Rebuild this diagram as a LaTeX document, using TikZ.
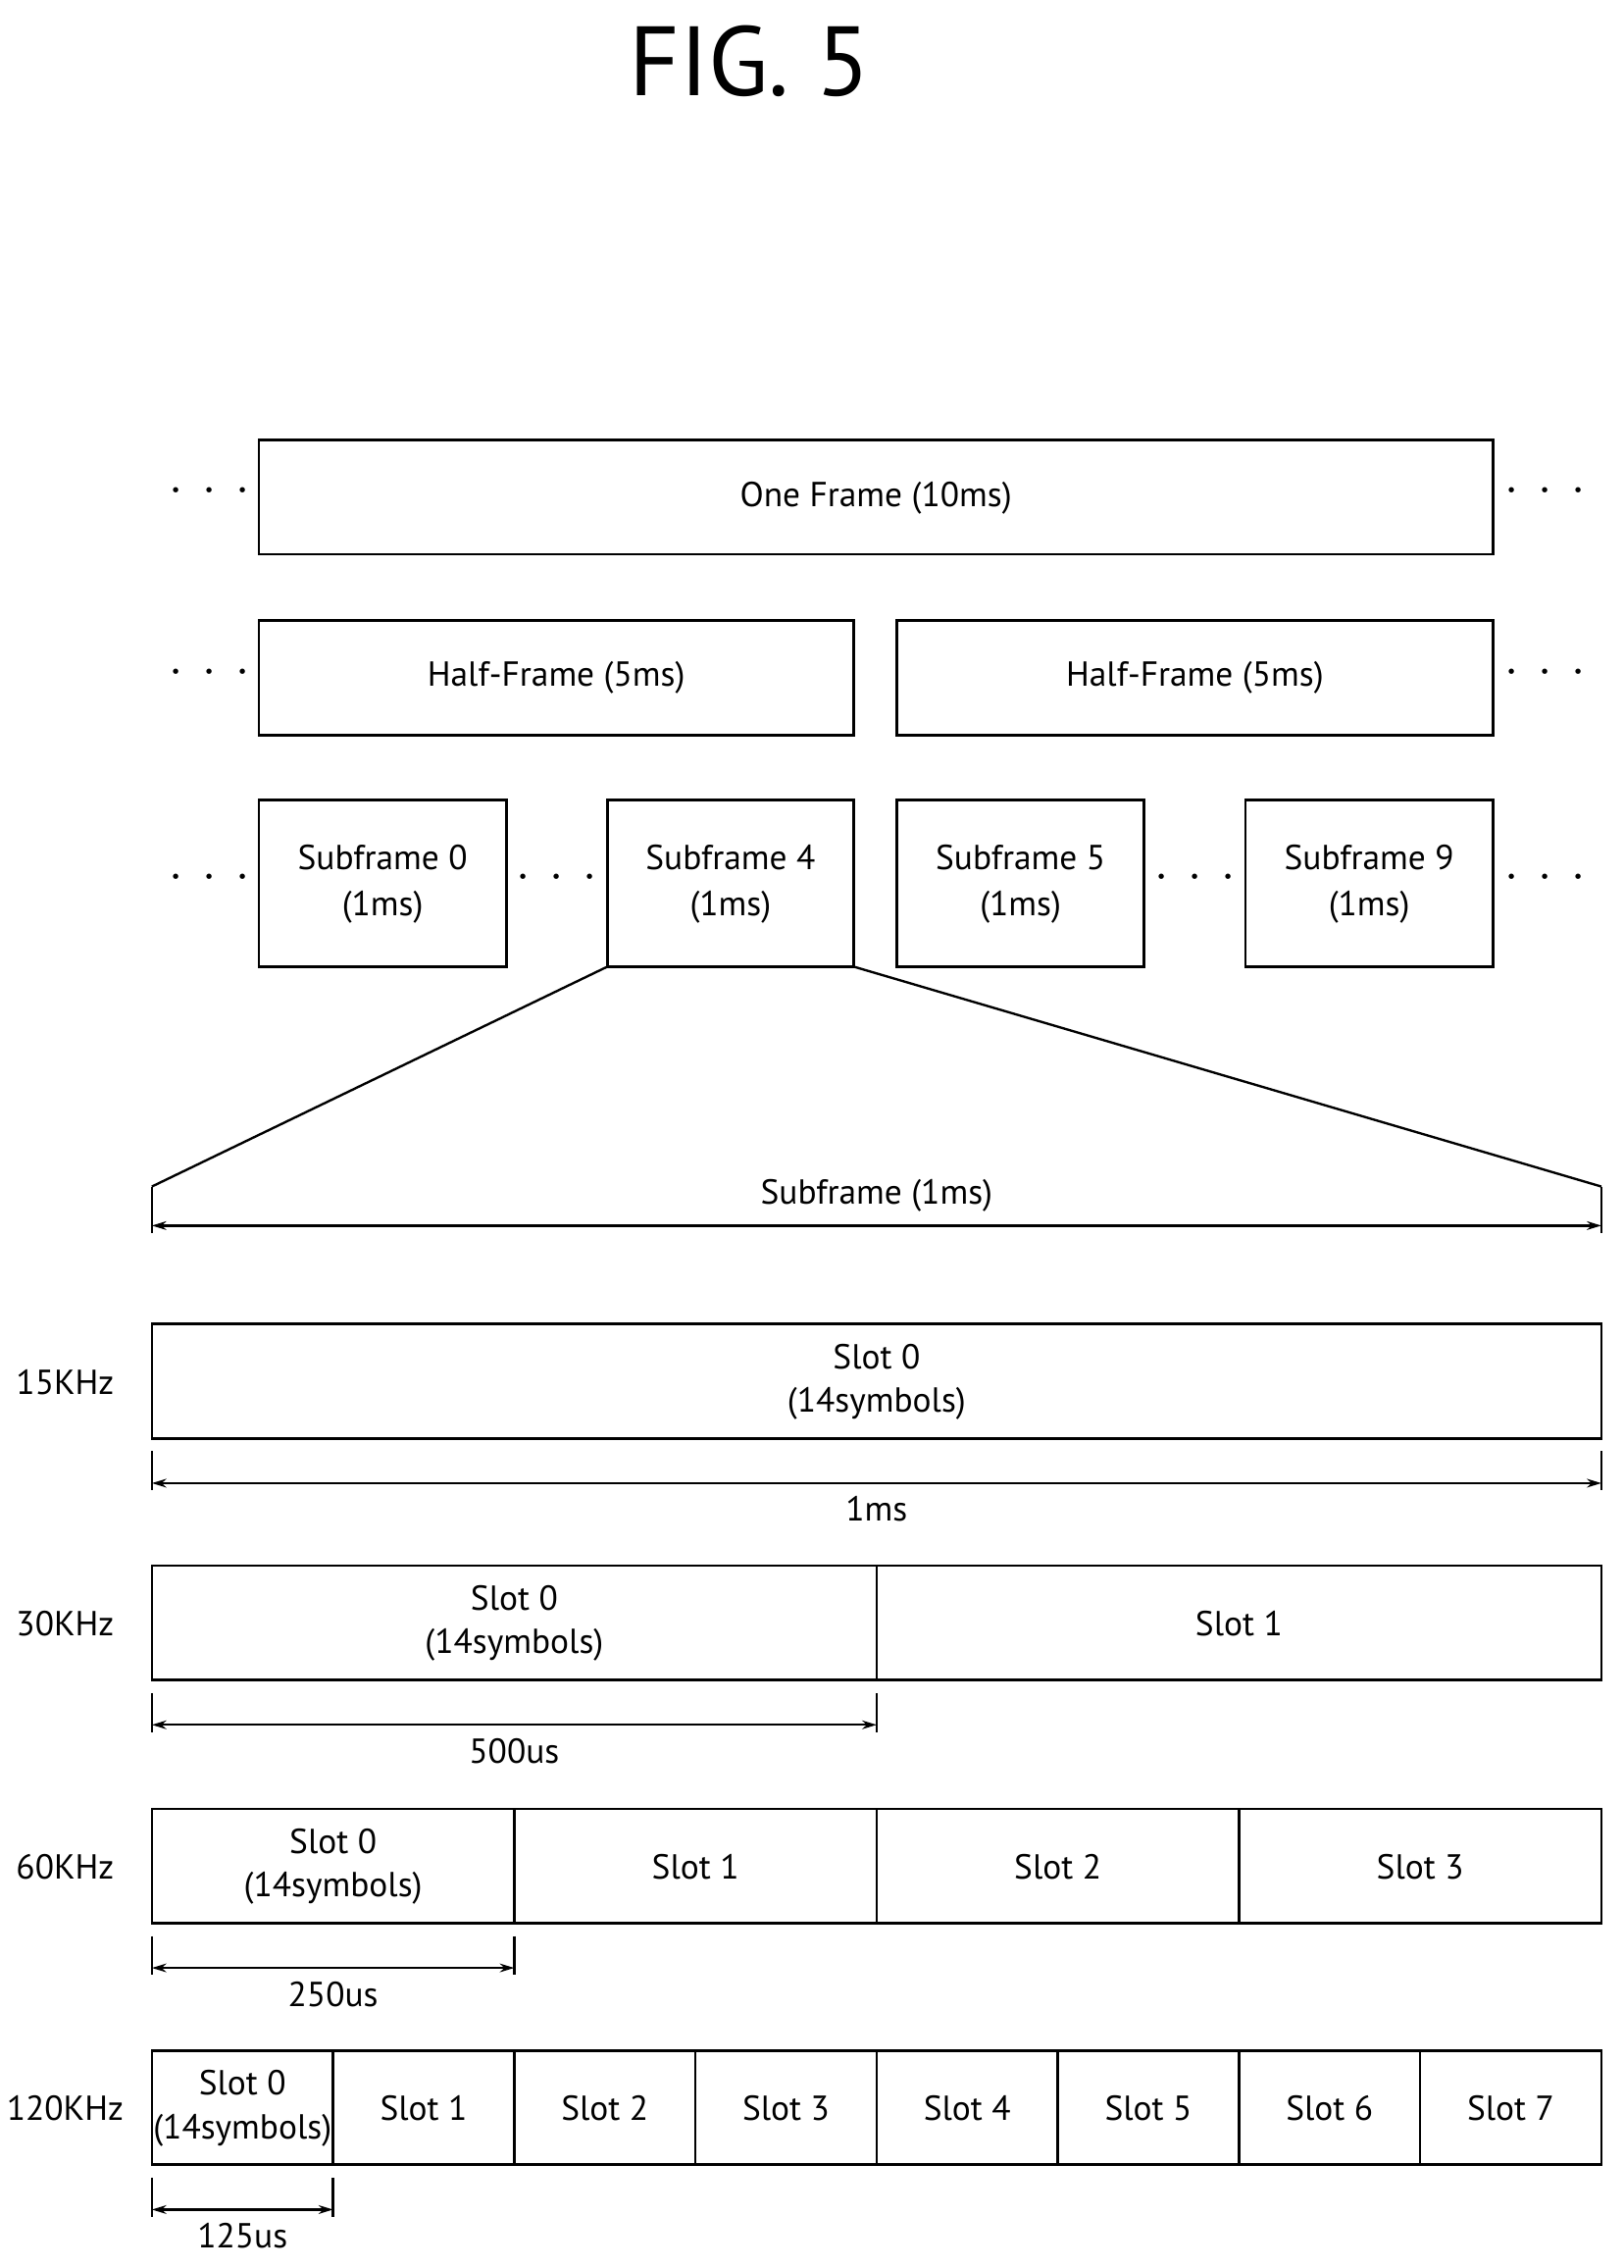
\documentclass[tikz,border=0pt]{standalone}
\usepackage{fontspec}
\setmainfont{PT Sans}
\usetikzlibrary{arrows.meta}
\begin{document}
\begin{tikzpicture}[x=0.5pt,y=-0.5pt,
  bx/.style={draw,line width=0.9pt},
  lbl/.style={font=\fontsize{12}{14}\selectfont},
  dots/.style={font=\fontsize{16}{16}\selectfont},
  dim/.style={line width=0.8pt,{Stealth[open,length=5pt,width=3pt]}-{Stealth[open,length=5pt,width=3pt]}},
  tick/.style={line width=0.8pt}]
\useasboundingbox (0,0) rectangle (1122,1567.4);
\node[font=\fontsize{34}{36}\selectfont] (title) at (518,42) {FIG. 5};
% frame
\draw[bx] (179,304) rectangle (1032,383);
\node[lbl] (of) at (605.5,344) {One Frame (10ms)};
\node[dots] (d1) at (145,340) {$\cdot\,\cdot\,\cdot$};
\node[dots] (d2) at (1068,340) {$\cdot\,\cdot\,\cdot$};
% half frames
\draw[bx] (179,429) rectangle (590,508);
\draw[bx] (620,429) rectangle (1032,508);
\node[lbl] (hf1) at (384.5,468) {Half-Frame (5ms)};
\node[lbl] (hf2) at (826,468) {Half-Frame (5ms)};
\node[dots] (d3) at (145,465) {$\cdot\,\cdot\,\cdot$};
\node[dots] (d4) at (1068,465) {$\cdot\,\cdot\,\cdot$};
% subframes
\foreach \a/\b/\n in {179/350/0,420/590/4,620/791/5,861/1032/9}{
  \draw[bx] (\a,553) rectangle (\b,668);
  \node[lbl,align=center] (sf\n) at ({(\a+\b)/2},611) {Subframe \n\\[2pt](1ms)};
}
\foreach \x/\n in {145/a,385/b,826/c,1068/d}{\node[dots] (dd\n) at (\x,607) {$\cdot\,\cdot\,\cdot$};}
\coordinate (zl) at (105,820); \coordinate (zr) at (1107,820);
\draw[line width=0.8pt] (420,668) -- (zl);
\draw[line width=0.8pt] (590,668) -- (zr);
\draw[tick] (105,820) -- (105,852); \draw[tick] (1107,820) -- (1107,852);
\draw[dim] (105,847) -- (1107,847);
\node[lbl] (sfl) at (606,826) {Subframe (1ms)};
% numerologies
\newcommand{\row}[6]{% y, n, width, label, dimlabel, freq
  \node[lbl] at (45,#1+40) {#6};
  \foreach \i in {1,...,#2}{
    \pgfmathsetmacro{\xa}{105+(\i-1)*#3}
    \pgfmathsetmacro{\xb}{105+\i*#3}
    \draw[bx] (\xa,#1) rectangle (\xb,#1+79);
    \pgfmathtruncatemacro{\k}{\i-1}
    \ifnum\i=1
      \node[lbl,align=center] at ({(\xa+\xb)/2},#1+40) {Slot 0\\[1pt](14symbols)};
    \else
      \node[lbl] at ({(\xa+\xb)/2},#1+40) {Slot \k};
    \fi
  }
  \pgfmathsetmacro{\xe}{105+#3}
  \draw[tick] (105,#1+88) -- (105,#1+115);
  \draw[tick] (\xe,#1+88) -- (\xe,#1+115);
  \draw[dim] (105,#1+110) -- (\xe,#1+110);
  \node[lbl] at ({105+#3/2},#1+128) {#5};
}
\row{915}{1}{1002}{}{1ms}{15KHz}
\row{1082}{2}{501}{}{500us}{30KHz}
\row{1250}{4}{250.5}{}{250us}{60KHz}
\row{1417}{8}{125.25}{}{125us}{120KHz}
\end{tikzpicture}
\end{document}
